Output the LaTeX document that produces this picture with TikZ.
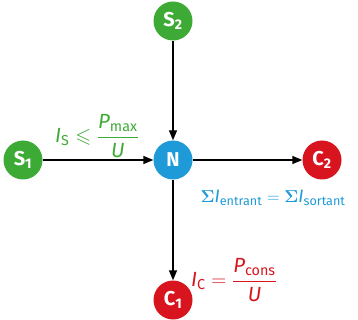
\documentclass[tikz,border=0pt]{standalone}
\usepackage{amsmath,amssymb}
\usepackage{fontspec}
\setmainfont{Fira Sans}
\usetikzlibrary{arrows.meta}
\definecolor{vert}{HTML}{3DAA35}
\definecolor{bleu}{HTML}{1E9AD8}
\definecolor{rouge}{HTML}{D8141E}
\tikzset{
  pt/.style={circle, minimum size=39pt, inner sep=0pt, text=white, font=\bfseries\fontsize{20}{20}\selectfont},
  fl/.style={line width=1.4pt, -{Triangle[length=10pt,width=8pt]}},
  eq/.style={font=\fontsize{20.5}{22}\selectfont, inner sep=0pt},
  eqb/.style={font=\fontsize{18}{20}\selectfont, inner sep=0pt}
}
\begin{document}
\begin{tikzpicture}[x=1pt,y=-1pt]
\useasboundingbox (0,0) rectangle (358,320);
\node[pt, fill=bleu] (N) at (173,160) {N};
\node[pt, fill=vert] (S2) at (173,21) {S\textsubscript{2}};
\node[pt, fill=vert] (S1) at (23,160) {S\textsubscript{1}};
\node[pt, fill=rouge] (C2) at (322,160) {C\textsubscript{2}};
\node[pt, fill=rouge] (C1) at (173,300) {C\textsubscript{1}};
\draw[fl] (S2) -- (N);
\draw[fl] (S1) -- (N);
\draw[fl] (N) -- (C2);
\draw[fl] (N) -- (C1);
\node[eq, text=vert] (lS) at (97,136) {$\textit{I}_{\text{S}} \leqslant \dfrac{\textit{P}_{\text{max}}}{\textit{U}}$};
\node[eqb, text=bleu] (lN) at (273,198) {$\boldsymbol{\Sigma}\textit{I}_{\text{entrant}} = \boldsymbol{\Sigma}\textit{I}_{\text{sortant}}$};
\node[eq, text=rouge] (lC) at (234,280) {$\textit{I}_{\text{C}} = \dfrac{\textit{P}_{\text{cons}}}{\textit{U}}$};
\end{tikzpicture}
\end{document}
